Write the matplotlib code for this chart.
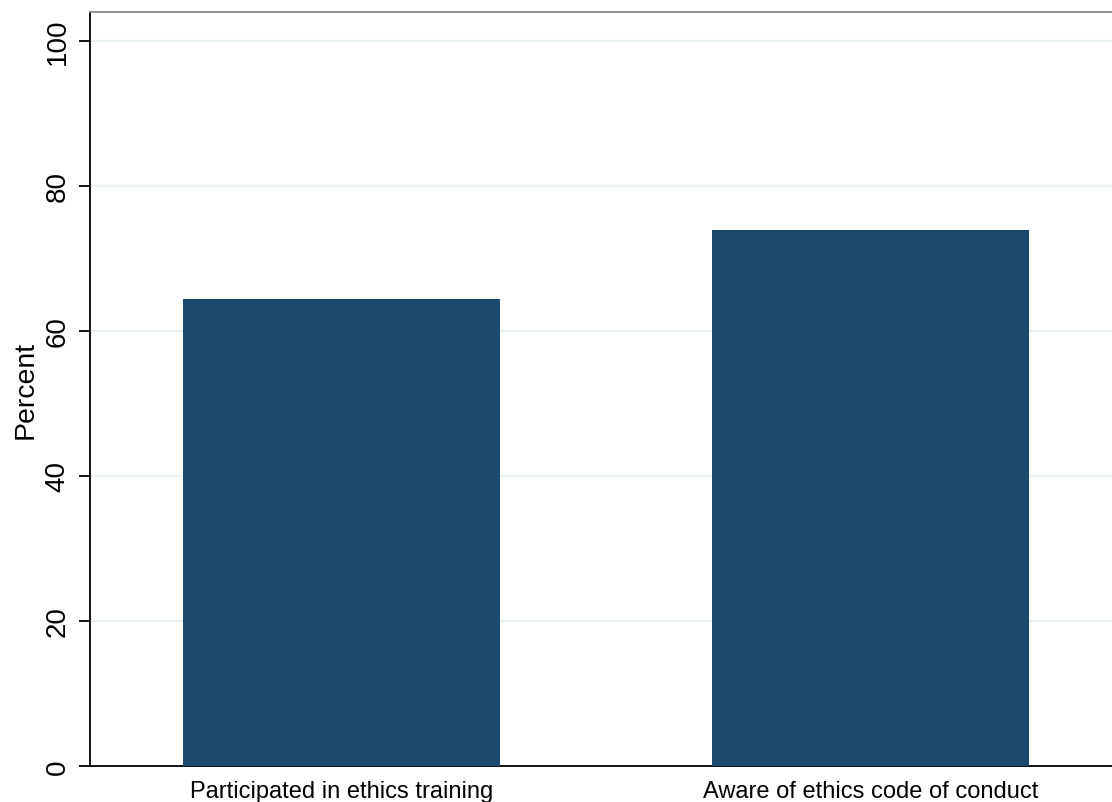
import matplotlib
matplotlib.use("Agg")
import matplotlib.pyplot as plt

categories = ["Participated in ethics training", "Aware of ethics code of conduct"]
values = [64.4, 74.0]
yticks = [0, 20, 40, 60, 80, 100]

plt.rcParams['font.family'] = ['Liberation Sans', 'DejaVu Sans']

fig = plt.figure(figsize=(11.12, 8.03), dpi=100)
ax = fig.add_axes([90/1112, 36/803, 1 - 90/1112, (767-13)/803])

x = list(range(len(categories)))
ax.bar(x, values, width=0.6, color='#1d4970', zorder=3)

ax.set_xlim(-0.475, 1.4565)
ax.set_ylim(0, 104.0)
ax.set_yticks(yticks)
ax.set_yticklabels([str(t) for t in yticks], rotation=90, va='center', fontsize=20)
ax.set_xticks(x)
ax.set_xticklabels(categories, fontsize=17)
ax.tick_params(axis='x', length=0, pad=10)
ax.tick_params(axis='y', length=8, width=1.3, pad=6, color='black')
ax.set_ylabel("Percent", fontsize=20.5, labelpad=4)

ax.grid(axis='y', color='#eaf2f3', linewidth=1.6, zorder=0)
ax.set_axisbelow(True)

ax.spines['right'].set_visible(False)
ax.spines['top'].set_color('#888888')
ax.spines['top'].set_linewidth(1.3)
ax.spines['left'].set_color('black')
ax.spines['left'].set_linewidth(1.3)
ax.spines['bottom'].set_color('black')
ax.spines['bottom'].set_linewidth(1.3)

fig.savefig("out.png", dpi=100)
